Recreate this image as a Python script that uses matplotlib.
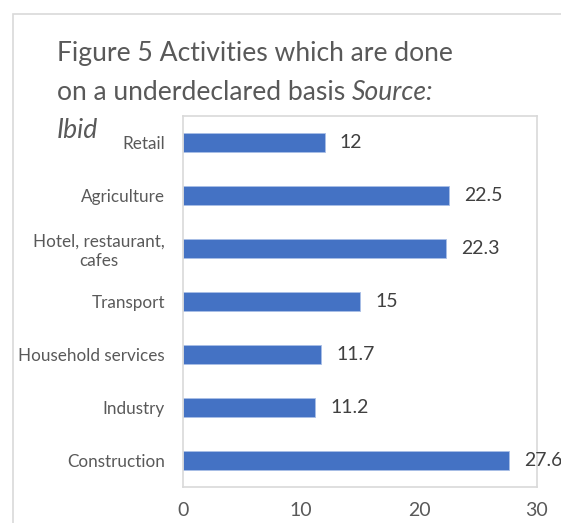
import matplotlib.pyplot as plt
from matplotlib.patches import Rectangle

categories = ["Retail", "Agriculture", "Hotel, restaurant,\ncafes", "Transport",
              "Household services", "Industry", "Construction"]
values = [12, 22.5, 22.3, 15, 11.7, 11.2, 27.6]
xticks = [0, 10, 20, 30]

plt.rcParams['font.family'] = ['Lato', 'DejaVu Sans']
gray = '#595959'
W, H = 561, 523

fig = plt.figure(figsize=(W / 100, H / 100), dpi=100)
# outer chart border (cropped at right and bottom)
fig.patches.append(Rectangle((13 / W, -0.1), 1.2, 1 - 14 / H + 0.1, transform=fig.transFigure,
                             fill=False, edgecolor='#d9d9d9', linewidth=1.2))

ax = fig.add_axes([183 / W, 1 - 487 / H, (537 - 183) / W, (487 - 116) / H])
ypos = list(range(len(categories)))
ax.barh(ypos, values, height=0.36, color='#4472C4', edgecolor='#a9bfe6', linewidth=0.6)
ax.set_yticks(ypos)
ax.set_yticklabels(categories, multialignment='center')
ax.set_ylim(len(categories) - 0.5, -0.5)
ax.set_xlim(0, 30)
ax.set_xticks(xticks)
ax.tick_params(axis='y', length=0, pad=13, labelsize=12.3, labelcolor=gray)
ax.tick_params(axis='x', length=0, pad=11, labelsize=14, labelcolor=gray)
for s in ax.spines.values():
    s.set_color('#d9d9d9')
    s.set_linewidth(1.2)

for y, v in zip(ypos, values):
    ax.annotate(f"{v:g}", (v, y), xytext=(11, 0), textcoords='offset points',
                va='center', ha='left', fontsize=14, color='#404040')

tsize = 19.1
fig.text(57 / W, 1 - 61 / H, "Figure 5 Activities which are done", fontsize=tsize,
         color=gray, va='baseline')
t2 = fig.text(57 / W, 1 - 100 / H, "on a underdeclared basis ", fontsize=tsize,
              color=gray, va='baseline')
ax.annotate("Source:", xy=(1, 0), xycoords=t2, va='bottom', ha='left',
            fontsize=tsize, color=gray, style='italic', annotation_clip=False)
fig.text(57 / W, 1 - 138 / H, "Ibid", fontsize=tsize, color=gray, style='italic',
         va='baseline')

fig.savefig('out.png', dpi=100)
